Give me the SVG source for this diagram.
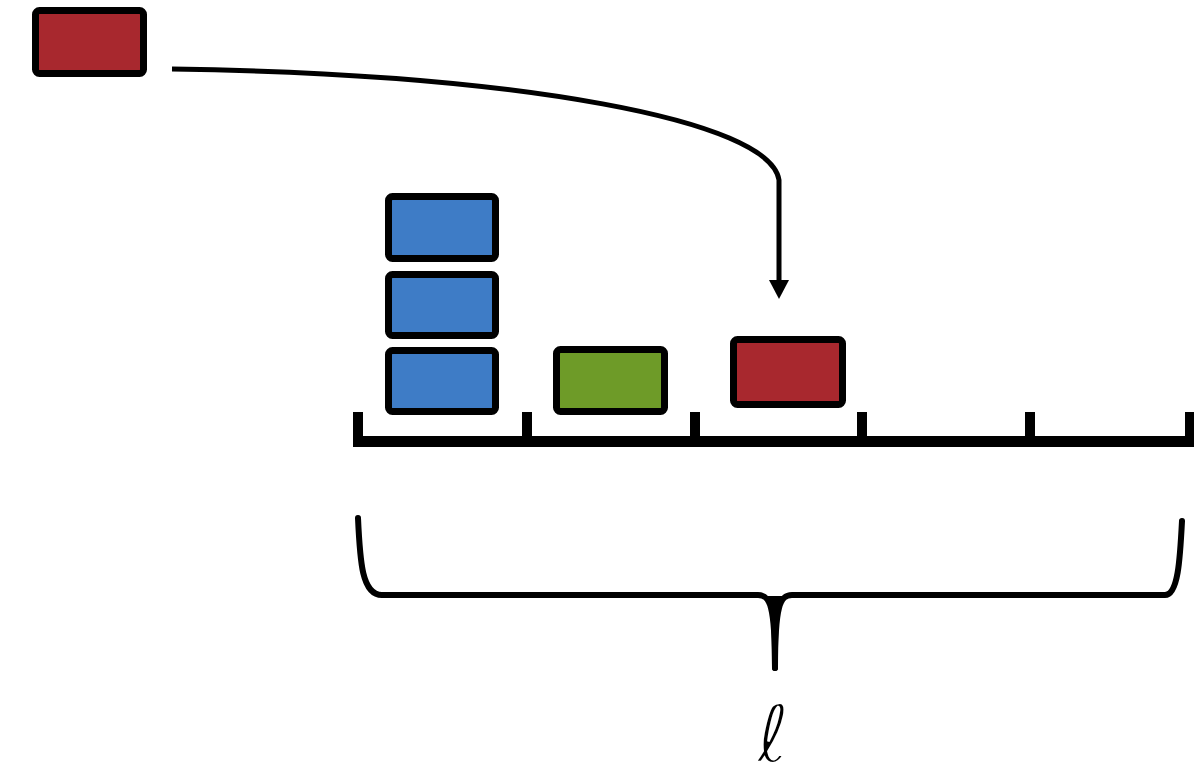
<svg xmlns="http://www.w3.org/2000/svg" width="1194" height="774" viewBox="0 0 1194 774">
<style>
.box{stroke:#000;stroke-width:7;stroke-linejoin:round}
.red{fill:#A8282E}
.blue{fill:#3E7CC6}
.green{fill:#6E9B28}
.conn{fill:none;stroke:#000;stroke-width:5}
.axis{stroke:#000;fill:none}
.brace{fill:none;stroke:#000;stroke-width:6;stroke-linecap:round;stroke-linejoin:round}
</style>
<rect width="1194" height="774" fill="#fff"/>
<g id="red-source"><rect class="box red" x="35.5" y="10.5" width="108" height="63" rx="4"/></g>
<g id="blue-1"><rect class="box blue" x="388.5" y="196.5" width="107" height="62" rx="4"/></g>
<g id="blue-2"><rect class="box blue" x="388.5" y="274.5" width="107" height="61" rx="4"/></g>
<g id="blue-3"><rect class="box blue" x="388.5" y="350.5" width="107" height="61" rx="4"/></g>
<g id="green"><rect class="box green" x="556.5" y="349.5" width="108" height="62" rx="4"/></g>
<g id="red-target"><rect class="box red" x="733.5" y="339.5" width="109" height="65" rx="4"/></g>
<g id="axis">
<line class="axis" x1="353" y1="441.5" x2="1194" y2="441.5" stroke-width="11"/>
<g stroke="#000" stroke-width="10">
<line x1="358" y1="412" x2="358" y2="446"/>
<line x1="527" y1="412" x2="527" y2="441"/>
<line x1="695" y1="412" x2="695" y2="441"/>
<line x1="862" y1="412" x2="862" y2="441"/>
<line x1="1030" y1="412" x2="1030" y2="441"/>
<line x1="1190" y1="412" x2="1190" y2="441"/>
</g>
</g>
<g id="brace">
<path class="brace" d="M358,518 C360,562 362,595 382,595 L758,595 C770,595 775,605 775,668"/>
<path class="brace" d="M775,668 C775,605 780,595 792,595 L1165,595 C1178,595 1180,560 1182,521"/>
<path d="M762,596 C771,600 772,615 772,668 L778,668 C778,615 779,600 788,596 Z" fill="#000"/>
</g>
<g id="label">
<text x="773" y="762" font-family="DejaVu Sans, sans-serif" font-style="italic" font-size="80" text-anchor="middle" fill="#000" stroke="#fff" stroke-width="2.5">ℓ</text>
</g>
<g id="connectors">
<path class="conn" d="M172,69 C520,74 770,120 779,180 L779,284"/>
<path d="M769,280 L789,280 L779,299 Z" fill="#000"/>
</g>
</svg>
